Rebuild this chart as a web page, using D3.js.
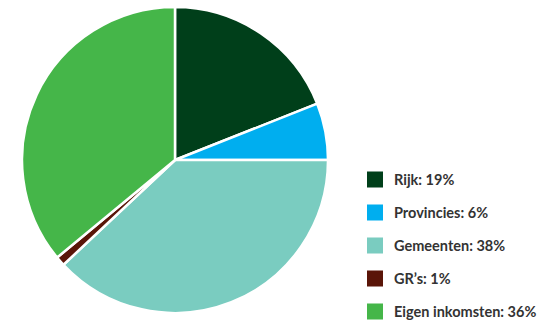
<!DOCTYPE html>
<html><head><meta charset="utf-8">
<script src="https://cdn.jsdelivr.net/npm/d3@7"></script>
<style>body{margin:0;background:#fff}svg{display:block}</style>
</head><body>
<svg id="c" width="547" height="326"></svg>
<script>
const categories = ["Rijk", "Provincies", "Gemeenten", "GR’s", "Eigen inkomsten"];
const values = [19, 6, 38, 1, 36];
const colors = ["#003f1a", "#00aeef", "#7accc0", "#5a1508", "#45b649"];

const svg = d3.select("#c");
const cx = 175, cy = 160, r = 153;
const pie = d3.pie().sort(null).value(d => d.v);
const arc = d3.arc().innerRadius(0).outerRadius(r);
const data = categories.map((c, i) => ({c, v: values[i], col: colors[i]}));
const g = svg.append("g").attr("transform", `translate(${cx},${cy})`);
g.selectAll("path").data(pie(data)).join("path")
  .attr("d", arc).attr("fill", d => d.data.col)
  .attr("stroke", "#fff").attr("stroke-width", 2.5).attr("stroke-linejoin", "round");

const ly = d3.scaleBand().domain(categories).range([163, 328]);
const leg = svg.append("g");
const items = leg.selectAll("g").data(data).join("g")
  .attr("transform", d => `translate(367,${ly(d.c) + ly.bandwidth()/2})`);
items.append("rect").attr("x", 0).attr("y", -8).attr("width", 16).attr("height", 16).attr("fill", d => d.col);
items.append("text").attr("x", 27).attr("y", 0).attr("dy", "0.36em")
  .attr("font-family", "Lato, 'Open Sans', sans-serif").attr("font-weight", 700)
  .attr("font-size", 14.5).attr("fill", "#333")
  .text(d => `${d.c}: ${d.v}%`);
</script>
</body></html>
